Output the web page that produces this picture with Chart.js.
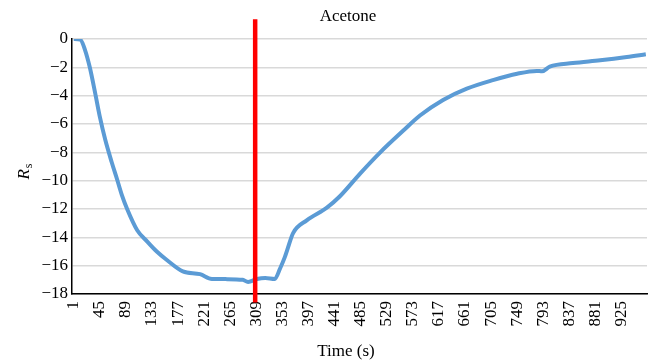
<!DOCTYPE html>
<html>
<head>
<meta charset="utf-8">
<title>Acetone</title>
<script src="https://cdn.jsdelivr.net/npm/chart.js@4/dist/chart.umd.min.js"></script>
<style>
  html, body { margin: 0; padding: 0; background: #fff; }
  #wrap { width: 653px; height: 361px; }
</style>
</head>
<body>
<div id="wrap"><canvas id="chart" width="653" height="361"></canvas></div>
<script>
// Sensor response to acetone
const timeS = [1, 12, 20, 28, 37, 45, 54, 65, 74, 82, 91, 108, 125, 141, 158, 185, 214, 234, 260, 286, 295,
  310, 324, 340, 349, 357, 361, 371, 394, 428, 450, 484, 518, 556, 585, 624, 664, 708, 749, 782, 791,
  804, 843, 889, 934, 966];
const rsValues = [0, -0.05, -0.78, -2.0, -3.8, -5.5, -7.1, -8.7, -9.9, -11.0, -12.0, -13.5, -14.3, -15.0, -15.6, -16.4, -16.6, -16.94, -16.95, -17.0, -17.15,
  -16.94, -16.87, -16.94, -16.2, -15.4, -14.9, -13.7, -12.8, -11.9, -11.1, -9.5, -8.0, -6.5, -5.4, -4.3, -3.5, -2.9, -2.45, -2.25, -2.28,
  -1.95, -1.7, -1.5, -1.27, -1.08];

// vertical marker (gas off), drawn a bit past the plot edges like the original
const markerTime = [307, 307];
const markerValues = [1.4, -18.6];

const xTickLabels = [1, 45, 89, 133, 177, 221, 265, 309, 353, 397, 441, 485, 529, 573, 617, 661, 705, 749, 793, 837, 881, 925];
const yTickLabels = [0, -2, -4, -6, -8, -10, -12, -14, -16, -18];

const SERIF = "'Liberation Serif', 'Times New Roman', serif";

/** Title, x title and the R_s y title (needs italic + subscript, so drawn by hand). */
const textPlugin = {
  id: "texts",
  afterDraw(chart) {
    const ctx = chart.ctx;
    ctx.save();
    ctx.fillStyle = "#000";
    ctx.textAlign = "center";
    ctx.textBaseline = "alphabetic";
    ctx.font = "17px " + SERIF;
    ctx.fillText("Acetone", 348, 21);
    ctx.fillText("Time (s)", 346, 356);

    // R_s, rotated to read bottom-to-top
    ctx.translate(29, 172);
    ctx.rotate(-Math.PI / 2);
    ctx.textAlign = "left";
    ctx.font = "italic 17px " + SERIF;
    const wR = ctx.measureText("R").width;
    ctx.font = "12px " + SERIF;
    const wS = ctx.measureText("s").width;
    const x0 = -(wR + wS) / 2;
    ctx.font = "italic 17px " + SERIF;
    ctx.fillText("R", x0, 0);
    ctx.font = "12px " + SERIF;
    ctx.fillText("s", x0 + wR + 1, 3);
    ctx.restore();
  },
};

new Chart(document.getElementById("chart"), {
  type: "line",
  data: {
    datasets: [
      {
        label: "marker",
        data: markerTime.map((t, i) => ({ x: t, y: markerValues[i] })),
        borderColor: "#ff0000",
        borderWidth: 4.5,
        pointRadius: 0,
        clip: false,
        order: 0,
      },
      {
        label: "Acetone",
        data: timeS.map((t, i) => ({ x: t, y: rsValues[i] })),
        borderColor: "#5b9bd5",
        borderWidth: 4,
        pointRadius: 0,
        cubicInterpolationMode: "monotone",
        order: 1,
      },
    ],
  },
  options: {
    responsive: false,
    animation: false,
    layout: { padding: { top: 39, right: 6, bottom: 0, left: 0 } },
    plugins: {
      legend: { display: false },
      title: { display: false },
      tooltip: { enabled: false },
    },
    scales: {
      x: {
        type: "linear",
        min: -2,
        max: 968,
        afterBuildTicks: (s) => { s.ticks = xTickLabels.map((v) => ({ value: v })); },
        afterFit: (s) => { s.height = 67; },
        ticks: {
          autoSkip: false,
          minRotation: 90,
          maxRotation: 90,
          padding: 7,
          color: "#000",
          font: { family: SERIF, size: 17 },
          callback: (v) => String(v),
        },
        grid: { display: false, drawTicks: false },
        border: { color: "#000", width: 1.5 },
      },
      y: {
        min: -18,
        max: 0,
        afterBuildTicks: (s) => { s.ticks = yTickLabels.map((v) => ({ value: v })); },
        afterFit: (s) => { s.width = 72; },
        ticks: {
          padding: 4,
          color: "#000",
          font: { family: SERIF, size: 17 },
          callback: (v) => (v < 0 ? "\u2212" + Math.abs(v) : String(v)),
        },
        grid: { color: "#d9d9d9", lineWidth: 1.5, drawTicks: false },
        border: { color: "#000", width: 1.5 },
      },
    },
  },
  plugins: [textPlugin],
});
</script>
</body>
</html>
